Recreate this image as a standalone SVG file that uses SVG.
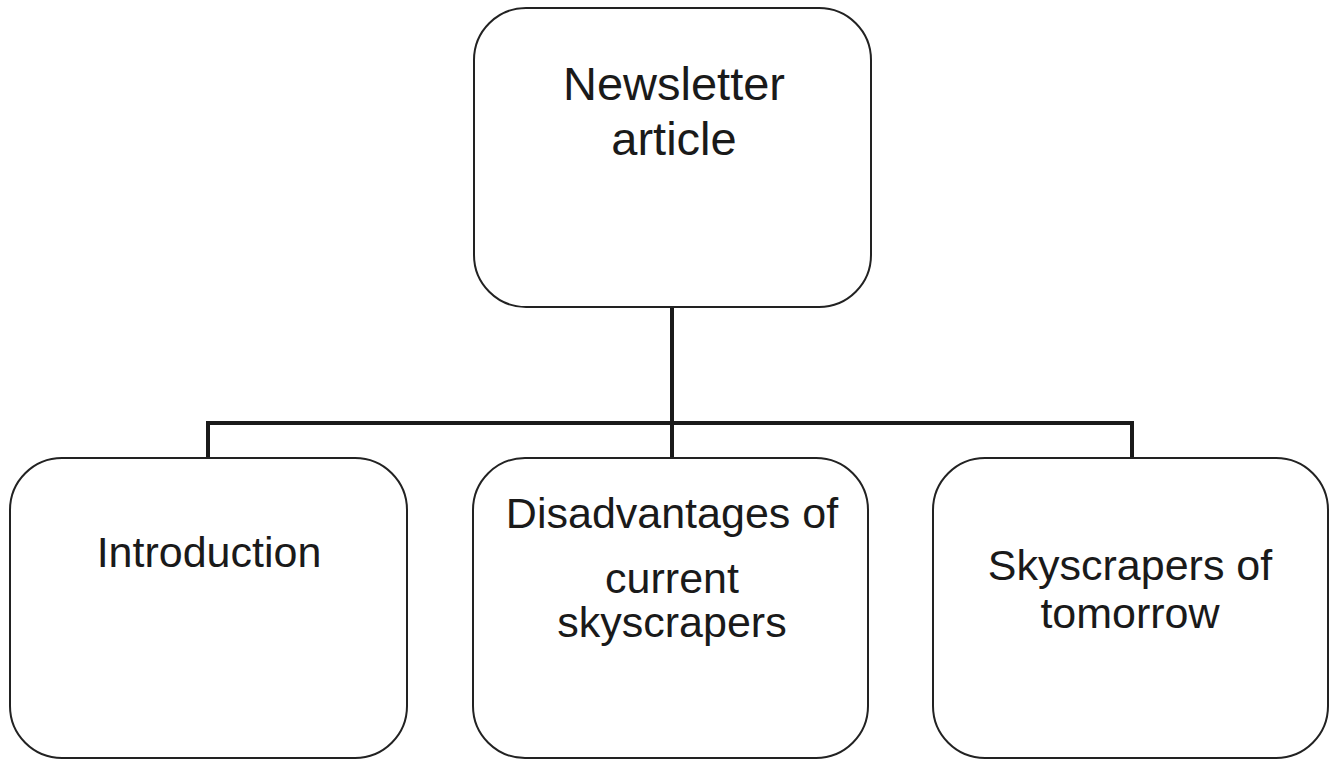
<svg xmlns="http://www.w3.org/2000/svg" width="1337" height="760" viewBox="0 0 1337 760">
<style>
.box{fill:#fff;stroke:#222;stroke-width:2}
.lbl{font-family:"Liberation Sans",Arial,sans-serif;font-size:43px;fill:#1a1a1a;text-anchor:middle}
.big{font-size:47px}
.conn{fill:none;stroke:#1a1a1a;stroke-width:4}
</style>
<rect width="1337" height="760" fill="#fff"/>
<g id="connectors">
<line class="conn" x1="672" y1="307" x2="672" y2="458"/>
<polyline class="conn" points="208,458 208,423 1132,423 1132,458"/>
</g>
<g id="newsletter">
<rect class="box" x="474" y="8" width="397" height="299" rx="52"/>
<text class="lbl big" x="674" y="100">Newsletter</text>
<text class="lbl big" x="674" y="155">article</text>
</g>
<g id="introduction">
<rect class="box" x="10" y="458" width="397" height="300" rx="52"/>
<text class="lbl" x="209" y="567">Introduction</text>
</g>
<g id="disadvantages">
<rect class="box" x="473" y="458" width="395" height="300" rx="52"/>
<text class="lbl" x="672" y="528">Disadvantages of</text>
<text class="lbl" x="672" y="593">current</text>
<text class="lbl" x="672" y="637">skyscrapers</text>
</g>
<g id="tomorrow">
<rect class="box" x="933" y="458" width="395" height="300" rx="52"/>
<text class="lbl" x="1130" y="580">Skyscrapers of</text>
<text class="lbl" x="1130" y="628">tomorrow</text>
</g>
</svg>
